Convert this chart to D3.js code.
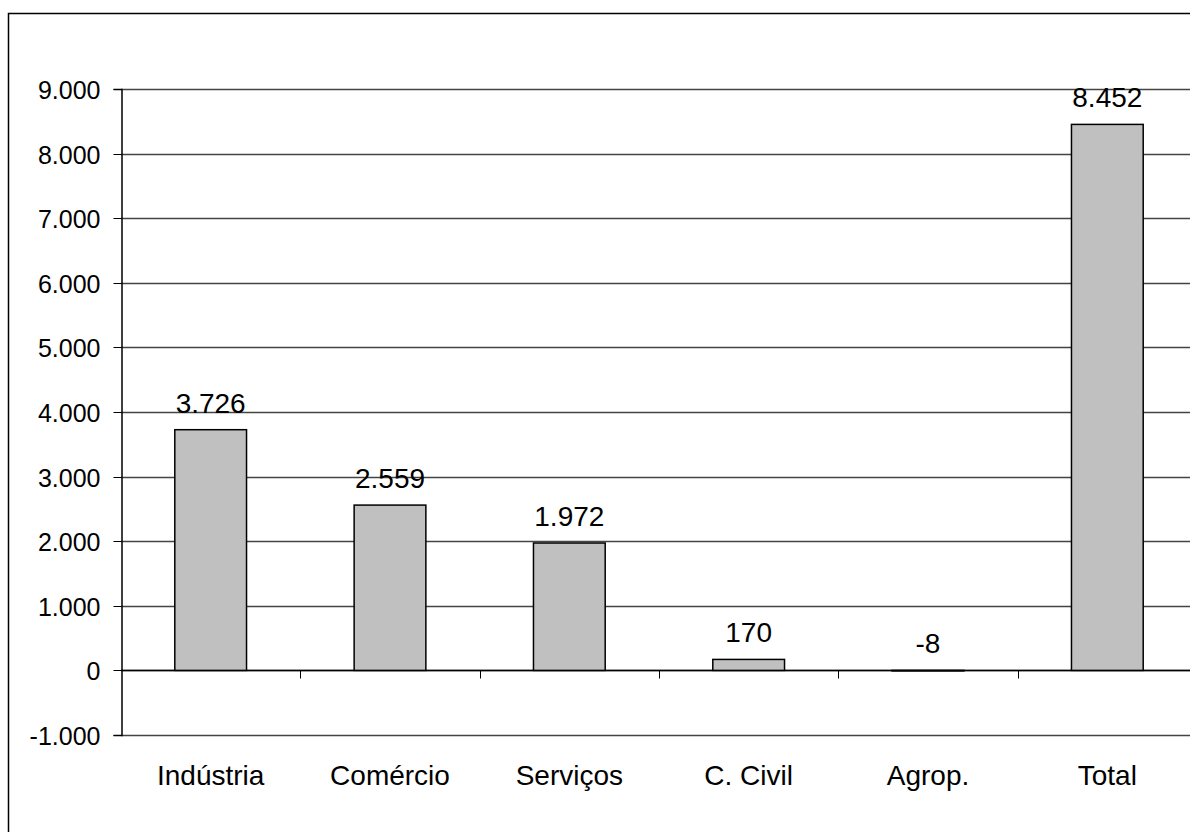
<!DOCTYPE html>
<html><head><meta charset="utf-8">
<script src="https://cdn.jsdelivr.net/npm/d3@7"></script>
<style>html,body{margin:0;padding:0;background:#fff;}svg{display:block;}</style>
</head><body>
<svg id="chart" width="1190" height="832"></svg>
<script>
const categories = ["Indústria", "Comércio", "Serviços", "C. Civil", "Agrop.", "Total"];
const values = [3726, 2559, 1972, 170, -8, 8452];
const yTicks = [-1000, 0, 1000, 2000, 3000, 4000, 5000, 6000, 7000, 8000, 9000];

const svg = d3.select("#chart");
const font = "Liberation Sans, Arial, sans-serif";
const fmt = v => d3.format(",")(v).replace(/,/g, ".").replace("\u2212", "-");

const plotL = 121, plotR = 1197, plotT = 89, plotB = 735;

// outer frame (extends beyond view)
svg.append("rect").attr("x", 8.5).attr("y", 13.5).attr("width", 1300).attr("height", 900)
  .attr("fill", "none").attr("stroke", "#000").attr("stroke-width", 1.5);

const x = d3.scaleBand().domain(categories).range([plotL, plotR]).padding(0);
const y = d3.scaleLinear().domain([-1000, 9000]).range([plotB, plotT]);

// gridlines
svg.append("g").selectAll("line").data(yTicks).join("line")
  .attr("x1", plotL).attr("x2", plotR)
  .attr("y1", d => Math.round(y(d)) + 0.5).attr("y2", d => Math.round(y(d)) + 0.5)
  .attr("stroke", "#444").attr("stroke-width", 1.3);

// y axis
const yAxis = d3.axisLeft(y).tickValues(yTicks).tickFormat(fmt).tickSize(8).tickPadding(13);
const gy = svg.append("g").attr("transform", `translate(${plotL + 0.5},0)`).call(yAxis);
gy.select(".domain").attr("stroke", "#000").attr("stroke-width", 1.5);
gy.selectAll(".tick line").attr("stroke", "#000");
gy.selectAll(".tick text").attr("font-family", font).attr("font-size", 25).attr("dy", "0.38em").attr("fill", "#000");
gy.selectAll(".tick").attr("transform", d => `translate(0,${Math.round(y(d)) + 0.5})`);

// x ticks between categories at zero line
const zeroY = Math.round(y(0)) + 0.5;
svg.append("g").selectAll("line").data(categories.slice(1)).join("line")
  .attr("x1", d => Math.round(x(d)) + 0.5).attr("x2", d => Math.round(x(d)) + 0.5)
  .attr("y1", zeroY).attr("y2", zeroY + 8)
  .attr("stroke", "#000").attr("stroke-width", 1);
svg.append("line").attr("x1", plotL).attr("x2", plotR).attr("y1", zeroY).attr("y2", zeroY)
  .attr("stroke", "#000").attr("stroke-width", 1.3);

// bars
const bw = x.bandwidth() * 0.4;
svg.append("g").selectAll("rect").data(values).join("rect")
  .attr("x", (d, i) => x(categories[i]) + x.bandwidth() / 2 - bw / 2)
  .attr("y", d => y(Math.max(0, d)))
  .attr("width", bw)
  .attr("height", d => Math.max(0.5, Math.abs(y(d) - y(0))))
  .attr("fill", "#c0c0c0").attr("stroke", "#000").attr("stroke-width", 1.5);

// value labels
svg.append("g").selectAll("text").data(values).join("text")
  .attr("x", (d, i) => x(categories[i]) + x.bandwidth() / 2)
  .attr("y", d => y(Math.max(0, d)) - 17)
  .attr("text-anchor", "middle").attr("font-family", font).attr("font-size", 28).attr("fill", "#000")
  .text(d => fmt(d));

// category labels
svg.append("g").selectAll("text").data(categories).join("text")
  .attr("x", d => x(d) + x.bandwidth() / 2)
  .attr("y", 785)
  .attr("text-anchor", "middle").attr("font-family", font).attr("font-size", 28).attr("fill", "#000")
  .text(d => d);
</script>
</body></html>
